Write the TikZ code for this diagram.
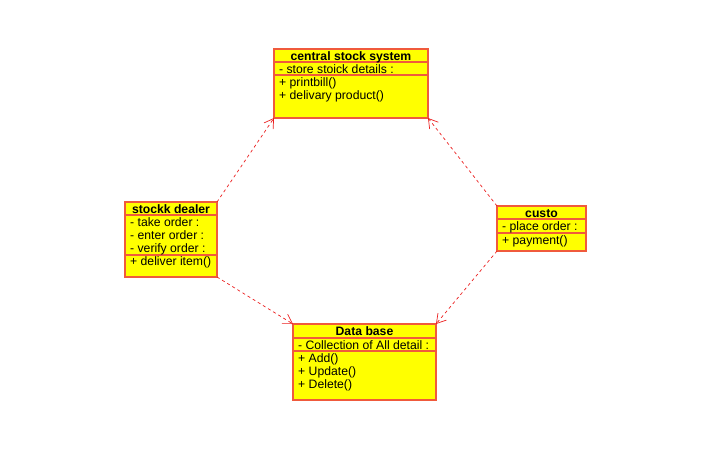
\documentclass[tikz,border=0pt]{standalone}
\usepackage{fontspec}
\setmainfont{Liberation Sans}
\usetikzlibrary{arrows.meta}
\definecolor{boxline}{RGB}{240,90,60}
\definecolor{boxfill}{RGB}{255,255,0}
\definecolor{deplink}{RGB}{235,30,30}
\tikzset{
  classbox/.style={draw=boxline, line width=1.2pt, fill=boxfill, anchor=north west,
    inner sep=0pt, outer sep=0pt},
  divider/.style={draw=boxline, line width=1.2pt},
  title/.style={font=\fontsize{12.2}{14}\selectfont\bfseries, anchor=base, inner sep=0pt},
  entry/.style={font=\fontsize{12.2}{14}\selectfont, anchor=base west, inner sep=0pt},
  dep/.style={draw=deplink, dash pattern=on 3pt off 3pt, line width=0.7pt,
    -{Straight Barb[length=9pt,width=11pt]}}
}
\begin{document}
\begin{tikzpicture}[x=1pt,y=-1pt]
  \useasboundingbox (0,0) rectangle (725,456);

  % central stock system
  \node[classbox, minimum width=154pt, minimum height=69pt] (central) at (274,49) {};
  \draw[divider] (274,62) -- (428,62);
  \draw[divider] (274,75) -- (428,75);
  \node[title] (centraltitle) at (351,60.5) {central stock system};
  \node[entry] (centrala1) at (279,73.5) {- store stoick details :};
  \node[entry] (centralm1) at (279,86) {+ printbill()};
  \node[entry] (centralm2) at (279,99) {+ delivary product()};

  % stockk dealer
  \node[classbox, minimum width=92pt, minimum height=75pt] (dealer) at (125,202) {};
  \draw[divider] (125,215) -- (217,215);
  \draw[divider] (125,255) -- (217,255);
  \node[title] (dealertitle) at (171,213.5) {stockk dealer};
  \node[entry] (dealera1) at (130,226.5) {- take order :};
  \node[entry] (dealera2) at (130,239.5) {- enter order :};
  \node[entry] (dealera3) at (130,252.5) {- verify order :};
  \node[entry] (dealerm1) at (130,265.5) {+ deliver item()};

  % custo
  \node[classbox, minimum width=89pt, minimum height=45pt] (custo) at (497,206) {};
  \draw[divider] (497,219) -- (586,219);
  \draw[divider] (497,233) -- (586,233);
  \node[title] (custotitle) at (541.5,217.5) {custo};
  \node[entry] (custoa1) at (502,230.5) {- place order :};
  \node[entry] (custom1) at (502,244.5) {+ payment()};

  % Data base
  \node[classbox, minimum width=143pt, minimum height=76pt] (database) at (293,324) {};
  \draw[divider] (293,338) -- (436,338);
  \draw[divider] (293,351) -- (436,351);
  \node[title] (databasetitle) at (364.5,335.5) {Data base};
  \node[entry] (databasea1) at (298,349) {- Collection of All detail :};
  \node[entry] (databasem1) at (298,362.5) {+ Add()};
  \node[entry] (databasem2) at (298,375.5) {+ Update()};
  \node[entry] (databasem3) at (298,388.5) {+ Delete()};

  % dependencies
  \draw[dep] (dealer.north east) -- (central.south west);
  \draw[dep] (custo.north west) -- (central.south east);
  \draw[dep] (dealer.south east) -- (database.north west);
  \draw[dep] (custo.south west) -- (database.north east);
\end{tikzpicture}
\end{document}
